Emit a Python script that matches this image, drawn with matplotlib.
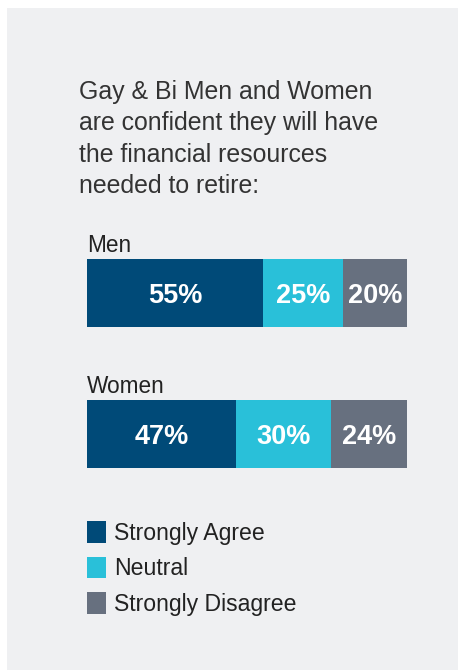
import matplotlib.pyplot as plt
from matplotlib.patches import Rectangle, Patch
import numpy as np

plt.rcParams['font.family'] = ['Liberation Sans', 'DejaVu Sans']

# data
groups = ['Men', 'Women']
responses = ['Strongly Agree', 'Neutral', 'Strongly Disagree']
values = {
    'Strongly Agree': [55, 47],
    'Neutral': [25, 30],
    'Strongly Disagree': [20, 24],
}
colors = ['#004a78', '#29c0d9', '#67707f']
title = 'Gay & Bi Men and Women\nare confident they will have\nthe financial resources\nneeded to retire:'

W, H = 458, 670
fig = plt.figure(figsize=(W / 100, H / 100), dpi=100, facecolor='white')

# light gray panel
fig.patches.append(Rectangle((7 / W, 0), 1 - 7 / W, 1 - 8 / H, transform=fig.transFigure,
                             facecolor='#eff0f2', edgecolor='none', zorder=-5))

fig.text(79 / W, 1 - 80 / H, title, ha='left', va='top', fontsize=17.9,
         color='#333333', linespacing=1.39, zorder=2)

# bar axes, in pixel placement
ax = fig.add_axes([87 / W, (H - 468) / H, 320 / W, 209 / H], zorder=2)
ax.set_facecolor('none')
bh = 0.482
vals = np.array([values[r] for r in responses], dtype=float)
totals = vals.sum(axis=0)
left = np.zeros(len(groups))
for r, c, v in zip(responses, colors, vals):
    w = v / totals * 100
    ax.barh(np.arange(len(groups)), w, left=left, height=bh, color=c, label=r)
    for i in range(len(groups)):
        ax.text(left[i] + w[i] / 2, i, f'{int(v[i])}%', ha='center', va='center_baseline',
                color='white', fontsize=19.5, fontweight='bold')
    left += w

for i, g in enumerate(groups):
    ax.text(0, i - bh / 2 - 0.05, g, ha='left', va='baseline', fontsize=16.3, color='#222222')

ax.set_xlim(0, 100)
ax.set_ylim(1 + 0.241, -0.241)
ax.axis('off')

handles = [Patch(facecolor=c, label=r) for r, c in zip(responses, colors)]
fig.legend(handles=handles, loc='upper left', bbox_to_anchor=(78 / W, 1 - 512 / H),
           frameon=False, fontsize=16.6, handlelength=0.8, handleheight=1.05,
           handletextpad=0.35, labelspacing=0.52, labelcolor='#222222', borderaxespad=0)

fig.savefig('out.png', dpi=100, facecolor='white')
